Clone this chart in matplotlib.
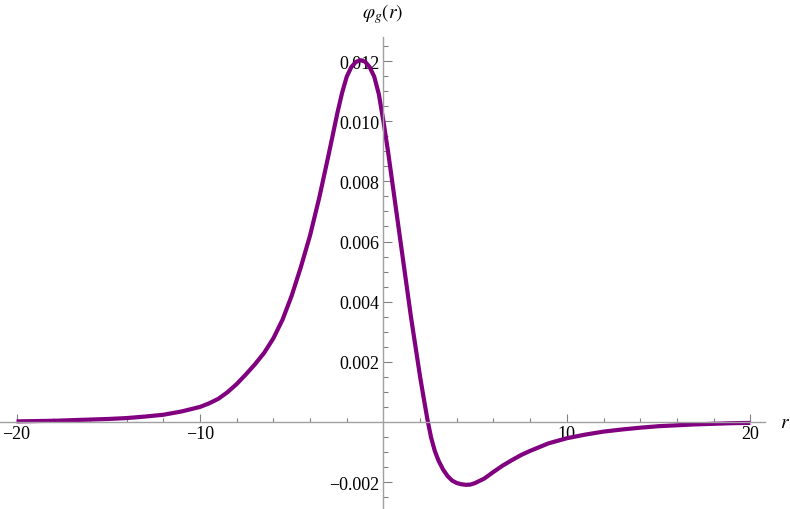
import matplotlib
matplotlib.use("Agg")
import matplotlib.pyplot as plt

# points
r_vals = [-20, -19, -18, -17, -16, -15, -14, -13, -12, -11, -10, -9.5, -9,
          -8.5, -8, -7.5, -7, -6.5, -6, -5.5, -5, -4.5, -4, -3.5, -3, -2.5,
          -2.25, -2, -1.75, -1.5, -1.25, -1, -0.75, -0.5, -0.25, 0, 0.25,
          0.5, 0.75, 1, 1.25, 1.5, 1.75, 2, 2.2, 2.4, 2.6, 2.8, 3, 3.25, 3.5,
          3.75, 4, 4.25, 4.5, 4.75, 5, 5.5, 6, 6.5, 7, 7.5, 8, 9, 10, 11, 12,
          13, 14, 15, 16, 17, 18, 19, 20]
phi_vals = [0.00002, 0.00003, 0.00004, 0.00006, 0.00008, 0.00010, 0.00013,
            0.00018, 0.00024, 0.00035, 0.00050, 0.00062, 0.00077, 0.00099,
            0.00126, 0.00158, 0.00192, 0.00230, 0.00278, 0.00340, 0.00420,
            0.00515, 0.00620, 0.00745, 0.00885, 0.01030, 0.01095, 0.01148,
            0.01180, 0.01197, 0.01203, 0.01198, 0.01180, 0.01148, 0.01090,
            0.01000, 0.00900, 0.00790, 0.00680, 0.00570, 0.00460, 0.00350,
            0.00250, 0.00150, 0.00078, 0.00008, -0.00052, -0.00096, -0.00128,
            -0.00158, -0.00180, -0.00195, -0.00203, -0.00207, -0.00209,
            -0.00208, -0.00203, -0.00188, -0.00166, -0.00145, -0.00127,
            -0.00110, -0.00096, -0.00071, -0.00054, -0.00042, -0.00032,
            -0.00025, -0.00019, -0.00014, -0.00011, -0.00008, -0.00006,
            -0.00004, -0.00003]

x_ticks = [-20, -10, 10, 20]
x_labels = ["\u221220", "\u221210", "10", "20"]
y_ticks = [-0.002, 0.002, 0.004, 0.006, 0.008, 0.010, 0.012]
y_labels = ["\u22120.002", "0.002", "0.004", "0.006", "0.008", "0.010", "0.012"]

plt.rcParams["font.family"] = ["Liberation Serif", "DejaVu Serif"]
plt.rcParams["mathtext.fontset"] = "stix"

fig = plt.figure(figsize=(7.9, 5.1), dpi=100)
ax = fig.add_axes([0.0, 1 / 510, 765 / 790, 471 / 510])

ax.plot(r_vals, phi_vals, color="#800080", linewidth=3.0,
        solid_capstyle="butt", solid_joinstyle="round")

ax.set_xlim(-20.9, 20.8)
ax.set_ylim(-0.00286, 0.0128)

ax.spines["left"].set_position(("data", 0))
ax.spines["bottom"].set_position(("data", 0))
ax.spines["top"].set_visible(False)
ax.spines["right"].set_visible(False)
for s in ("left", "bottom"):
    ax.spines[s].set_color("#a0a0a0")
    ax.spines[s].set_linewidth(1.0)

ax.set_xticks(x_ticks)
ax.set_xticklabels(x_labels)
ax.set_xticks([t for t in range(-20, 21, 2) if t % 10 != 0], minor=True)
ax.set_yticks(y_ticks)
ax.set_yticklabels(y_labels)
ax.set_yticks([i * 0.0005 for i in range(-5, 26) if i % 4 != 0], minor=True)

ax.tick_params(which="both", direction="in", color="#808080", width=0.8,
               labelsize=13, labelcolor="black")
ax.tick_params(axis="x", which="major", length=6, pad=2)
ax.tick_params(axis="x", which="minor", length=3.2)
ax.tick_params(axis="y", which="major", length=6.5, pad=3)
ax.tick_params(axis="y", which="minor", length=3.5)

fig.text(785 / 790, 1 - 423 / 510, "$r$", fontsize=14, ha="center", va="center")
fig.text(383 / 790, 1 - 14 / 510, r"$\varphi_g(r)$", fontsize=14,
         ha="center", va="center")

fig.savefig("out.png", dpi=100)
